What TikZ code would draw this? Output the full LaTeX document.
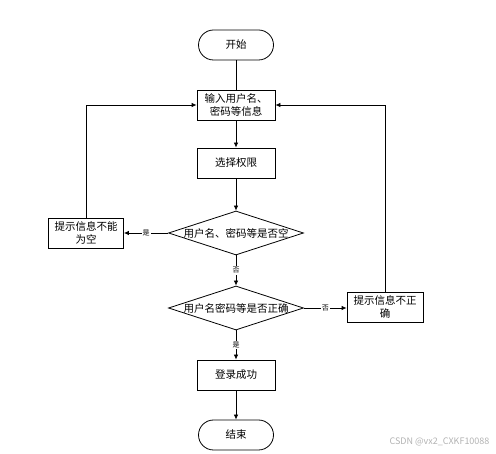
\documentclass[tikz,border=0pt]{standalone}
\usepackage{fontspec}
\setmainfont{Noto Sans CJK SC}
\usetikzlibrary{shapes.geometric,arrows.meta}

\tikzset{
  base/.style={draw, line width=0.8pt, font=\fontsize{10.5}{12.5}\selectfont, inner sep=0pt},
  terminal/.style={base, rounded corners=15pt, minimum width=75pt, minimum height=30pt},
  process/.style={base, minimum width=78pt, minimum height=30pt, align=center},
  decision/.style={base, diamond, minimum width=135pt, minimum height=44pt},
  arrow/.style={line width=0.8pt, -{Latex[length=5pt,width=4.5pt]}},
  tag/.style={fill=white, inner sep=1pt, font=\fontsize{7}{8}\selectfont}
}

\begin{document}
\begin{tikzpicture}[x=1pt, y=-1pt]
      \useasboundingbox (0, 0) rectangle (496, 454);

      \node[terminal] (start) at (236, 45) {开始};
      \node[process] (input) at (236, 105) {输入用户名、\\密码等信息};
      \node[process] (choose) at (236, 163) {选择权限};
      \node[decision] (empty) at (236, 233) {\makebox[0pt]{用户名、密码等是否空}};
      \node[process, minimum width=75pt] (blank) at (86, 233) {提示信息不能\\为空};
      \node[decision] (check) at (236, 308) {\makebox[0pt]{用户名密码等是否正确}};
      \node[process, minimum width=76pt] (wrong) at (385, 307) {提示信息不正\\确};
      \node[process] (ok) at (236, 375) {登录成功};
      \node[terminal] (stop) at (236, 435) {结束};

      \draw[line width=0.8pt] (start) -- (input);
      \draw[arrow] (input) -- (choose);
      \draw[arrow] (choose) -- (empty);
      \draw[arrow] (empty) -- node[tag] {是} (blank);
      \draw[arrow] (blank.north) |- (input.west);
      \draw[arrow] (empty) -- node[tag] {否} (check);
      \draw[arrow] (check.east) -- node[tag] {否} (wrong.west |- check.east);
      \draw[arrow] (wrong.north) |- (input.east);
      \draw[arrow] (check) -- node[tag] {是} (ok);
      \draw[arrow] (ok) -- (stop);

      \node[anchor=east, text=black!30, font=\fontsize{9}{10}\selectfont] (mark) at (493, 442) {CSDN @vx2\_CXKF10088};

\end{tikzpicture}
\end{document}
